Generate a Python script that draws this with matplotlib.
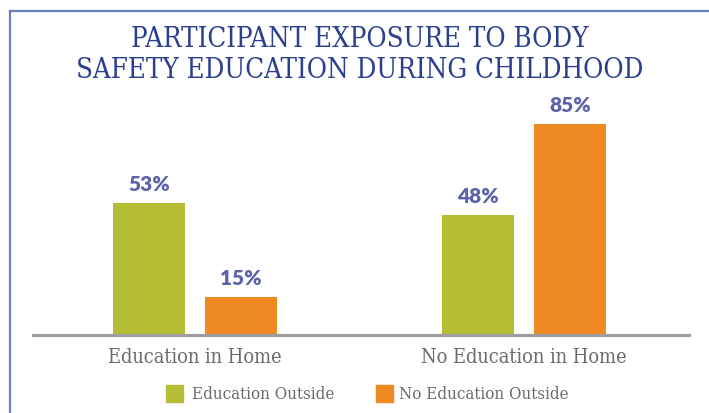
import matplotlib
matplotlib.use("Agg")
import numpy as np
import matplotlib.pyplot as plt
from matplotlib.patches import Rectangle
from matplotlib.lines import Line2D

################################################################################
# Data
################################################################################
categories      = ["Education in Home", "No Education in Home"]
series_names    = ["Education Outside", "No Education Outside"]
edu_outside     = [53, 48]
no_edu_outside  = [15, 85]
title_lines     = ["PARTICIPANT EXPOSURE TO BODY",
                   "SAFETY EDUCATION DURING CHILDHOOD"]

GREEN       = "#b5bd34"
ORANGE      = "#ef8a22"
NAVY        = "#2b3f8f"
LABEL_BLUE  = "#5b62a8"
GREY_TEXT   = "#6b6b6b"
BORDER      = "#6b80c0"

W, H = 709, 413

################################################################################
# Figure
################################################################################
fig = plt.figure(figsize=(W / 100, H / 100), dpi=100)

# frame lines (top + left) of the infographic box
fig.add_artist(Line2D([10 / W, 10 / W], [0, 1 - 11 / H], transform=fig.transFigure,
                      color=BORDER, lw=1.6))
fig.add_artist(Line2D([10 / W, 1], [1 - 11 / H, 1 - 11 / H], transform=fig.transFigure,
                      color=BORDER, lw=1.6))

ax = fig.add_axes([33 / W, (H - 334) / H, (689 - 33) / W, 247 / H])

x = np.arange(len(categories))
bw = 0.219
off = 0.14
b1 = ax.bar(x - off, edu_outside, bw, color=GREEN, zorder=2)
b2 = ax.bar(x + off, no_edu_outside, bw, color=ORANGE, zorder=2)

for bars, vals in ((b1, edu_outside), (b2, no_edu_outside)):
    for b, v in zip(bars, vals):
        ax.annotate(f"{v}%", (b.get_x() + b.get_width() / 2, v),
                    xytext=(0, 6.5), textcoords="offset points",
                    ha="center", va="bottom", color=LABEL_BLUE,
                    fontsize=15, fontweight="heavy", family=["Lato", "DejaVu Sans"])

ax.axhline(-0.55, color="#9e9e9e", lw=2.3, zorder=3, clip_on=False)
ax.set_xlim(-0.492, 1.502)
ax.set_ylim(0, 100)
ax.axis("off")

for xi, cat in zip(x, categories):
    fig.text((33 + (xi + 0.492) * 329) / W, 1 - 363 / H, cat, ha="center",
             va="baseline", color=GREY_TEXT, fontsize=14.3,
             family="DejaVu Serif", fontstretch="condensed")

# title
for i, line in enumerate(title_lines):
    fig.text(360 / W, 1 - (47 + 31 * i) / H, line, ha="center", va="baseline",
             color=NAVY, fontsize=19.8, family="DejaVu Serif",
             fontstretch="condensed")

# legend
for sx, tx, name, col in ((166, 192, series_names[0], GREEN),
                          (376, 399, series_names[1], ORANGE)):
    fig.add_artist(Rectangle((sx / W, 1 - 402 / H), 17 / W, 17 / H,
                             transform=fig.transFigure, color=col))
    fig.text(tx / W, 1 - 399 / H, name, ha="left", va="baseline",
             color=GREY_TEXT, fontsize=12.2, family="DejaVu Serif",
             fontstretch="condensed")

fig.savefig("out.png", dpi=100)
